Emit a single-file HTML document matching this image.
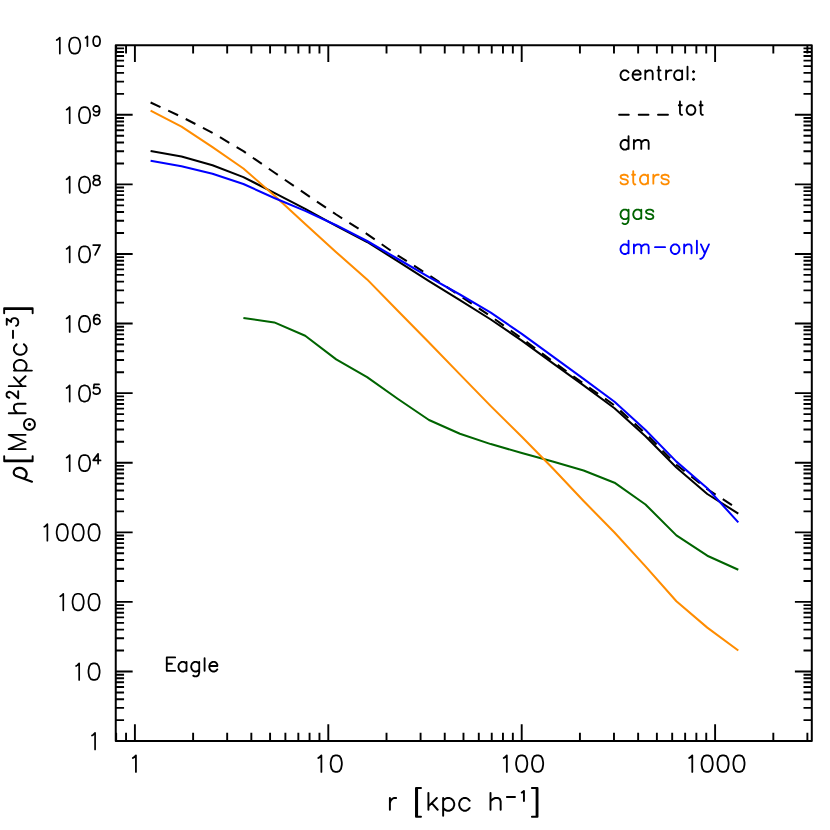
<!DOCTYPE html>
<html><head><meta charset="utf-8"><title>Eagle density profile</title>
<style>html,body{margin:0;padding:0;background:#fff;font-family:"Liberation Sans",sans-serif}svg{display:block}</style></head>
<body>
<svg width="830" height="830" viewBox="0 0 830 830">
<rect width="830" height="830" fill="#fff"/>
<g fill="none" stroke-linecap="round" stroke-linejoin="round">
<rect x="115.75" y="45.20" width="696.05" height="695.90" fill="none" stroke="#000" stroke-width="2.00"/>
<path d="M116.16 741.10 V732.80 M116.16 45.20 V53.50 M126.05 741.10 V732.80 M126.05 45.20 V53.50 M134.90 741.10 V724.20 M134.90 45.20 V62.10 M193.12 741.10 V732.80 M193.12 45.20 V53.50 M227.18 741.10 V732.80 M227.18 45.20 V53.50 M251.34 741.10 V732.80 M251.34 45.20 V53.50 M270.08 741.10 V732.80 M270.08 45.20 V53.50 M285.39 741.10 V732.80 M285.39 45.20 V53.50 M298.34 741.10 V732.80 M298.34 45.20 V53.50 M309.56 741.10 V732.80 M309.56 45.20 V53.50 M319.45 741.10 V732.80 M319.45 45.20 V53.50 M328.30 741.10 V724.20 M328.30 45.20 V62.10 M386.52 741.10 V732.80 M386.52 45.20 V53.50 M420.58 741.10 V732.80 M420.58 45.20 V53.50 M444.74 741.10 V732.80 M444.74 45.20 V53.50 M463.48 741.10 V732.80 M463.48 45.20 V53.50 M478.79 741.10 V732.80 M478.79 45.20 V53.50 M491.74 741.10 V732.80 M491.74 45.20 V53.50 M502.96 741.10 V732.80 M502.96 45.20 V53.50 M512.85 741.10 V732.80 M512.85 45.20 V53.50 M521.70 741.10 V724.20 M521.70 45.20 V62.10 M579.92 741.10 V732.80 M579.92 45.20 V53.50 M613.98 741.10 V732.80 M613.98 45.20 V53.50 M638.14 741.10 V732.80 M638.14 45.20 V53.50 M656.88 741.10 V732.80 M656.88 45.20 V53.50 M672.19 741.10 V732.80 M672.19 45.20 V53.50 M685.14 741.10 V732.80 M685.14 45.20 V53.50 M696.36 741.10 V732.80 M696.36 45.20 V53.50 M706.25 741.10 V732.80 M706.25 45.20 V53.50 M715.10 741.10 V724.20 M715.10 45.20 V62.10 M773.32 741.10 V732.80 M773.32 45.20 V53.50 M807.38 741.10 V732.80 M807.38 45.20 V53.50 M115.75 720.15 H124.05 M811.80 720.15 H803.50 M115.75 707.90 H124.05 M811.80 707.90 H803.50 M115.75 699.20 H124.05 M811.80 699.20 H803.50 M115.75 692.46 H124.05 M811.80 692.46 H803.50 M115.75 686.95 H124.05 M811.80 686.95 H803.50 M115.75 682.29 H124.05 M811.80 682.29 H803.50 M115.75 678.25 H124.05 M811.80 678.25 H803.50 M115.75 674.69 H124.05 M811.80 674.69 H803.50 M115.75 671.51 H132.65 M811.80 671.51 H794.90 M115.75 650.56 H124.05 M811.80 650.56 H803.50 M115.75 638.31 H124.05 M811.80 638.31 H803.50 M115.75 629.61 H124.05 M811.80 629.61 H803.50 M115.75 622.87 H124.05 M811.80 622.87 H803.50 M115.75 617.36 H124.05 M811.80 617.36 H803.50 M115.75 612.70 H124.05 M811.80 612.70 H803.50 M115.75 608.66 H124.05 M811.80 608.66 H803.50 M115.75 605.10 H124.05 M811.80 605.10 H803.50 M115.75 601.92 H132.65 M811.80 601.92 H794.90 M115.75 580.97 H124.05 M811.80 580.97 H803.50 M115.75 568.72 H124.05 M811.80 568.72 H803.50 M115.75 560.02 H124.05 M811.80 560.02 H803.50 M115.75 553.28 H124.05 M811.80 553.28 H803.50 M115.75 547.77 H124.05 M811.80 547.77 H803.50 M115.75 543.11 H124.05 M811.80 543.11 H803.50 M115.75 539.07 H124.05 M811.80 539.07 H803.50 M115.75 535.51 H124.05 M811.80 535.51 H803.50 M115.75 532.33 H132.65 M811.80 532.33 H794.90 M115.75 511.38 H124.05 M811.80 511.38 H803.50 M115.75 499.13 H124.05 M811.80 499.13 H803.50 M115.75 490.43 H124.05 M811.80 490.43 H803.50 M115.75 483.69 H124.05 M811.80 483.69 H803.50 M115.75 478.18 H124.05 M811.80 478.18 H803.50 M115.75 473.52 H124.05 M811.80 473.52 H803.50 M115.75 469.48 H124.05 M811.80 469.48 H803.50 M115.75 465.92 H124.05 M811.80 465.92 H803.50 M115.75 462.74 H132.65 M811.80 462.74 H794.90 M115.75 441.79 H124.05 M811.80 441.79 H803.50 M115.75 429.54 H124.05 M811.80 429.54 H803.50 M115.75 420.84 H124.05 M811.80 420.84 H803.50 M115.75 414.10 H124.05 M811.80 414.10 H803.50 M115.75 408.59 H124.05 M811.80 408.59 H803.50 M115.75 403.93 H124.05 M811.80 403.93 H803.50 M115.75 399.89 H124.05 M811.80 399.89 H803.50 M115.75 396.33 H124.05 M811.80 396.33 H803.50 M115.75 393.15 H132.65 M811.80 393.15 H794.90 M115.75 372.20 H124.05 M811.80 372.20 H803.50 M115.75 359.95 H124.05 M811.80 359.95 H803.50 M115.75 351.25 H124.05 M811.80 351.25 H803.50 M115.75 344.51 H124.05 M811.80 344.51 H803.50 M115.75 339.00 H124.05 M811.80 339.00 H803.50 M115.75 334.34 H124.05 M811.80 334.34 H803.50 M115.75 330.30 H124.05 M811.80 330.30 H803.50 M115.75 326.74 H124.05 M811.80 326.74 H803.50 M115.75 323.56 H132.65 M811.80 323.56 H794.90 M115.75 302.61 H124.05 M811.80 302.61 H803.50 M115.75 290.36 H124.05 M811.80 290.36 H803.50 M115.75 281.66 H124.05 M811.80 281.66 H803.50 M115.75 274.92 H124.05 M811.80 274.92 H803.50 M115.75 269.41 H124.05 M811.80 269.41 H803.50 M115.75 264.75 H124.05 M811.80 264.75 H803.50 M115.75 260.71 H124.05 M811.80 260.71 H803.50 M115.75 257.15 H124.05 M811.80 257.15 H803.50 M115.75 253.97 H132.65 M811.80 253.97 H794.90 M115.75 233.02 H124.05 M811.80 233.02 H803.50 M115.75 220.77 H124.05 M811.80 220.77 H803.50 M115.75 212.07 H124.05 M811.80 212.07 H803.50 M115.75 205.33 H124.05 M811.80 205.33 H803.50 M115.75 199.82 H124.05 M811.80 199.82 H803.50 M115.75 195.16 H124.05 M811.80 195.16 H803.50 M115.75 191.12 H124.05 M811.80 191.12 H803.50 M115.75 187.56 H124.05 M811.80 187.56 H803.50 M115.75 184.38 H132.65 M811.80 184.38 H794.90 M115.75 163.43 H124.05 M811.80 163.43 H803.50 M115.75 151.18 H124.05 M811.80 151.18 H803.50 M115.75 142.48 H124.05 M811.80 142.48 H803.50 M115.75 135.74 H124.05 M811.80 135.74 H803.50 M115.75 130.23 H124.05 M811.80 130.23 H803.50 M115.75 125.57 H124.05 M811.80 125.57 H803.50 M115.75 121.53 H124.05 M811.80 121.53 H803.50 M115.75 117.97 H124.05 M811.80 117.97 H803.50 M115.75 114.79 H132.65 M811.80 114.79 H794.90 M115.75 93.84 H124.05 M811.80 93.84 H803.50 M115.75 81.59 H124.05 M811.80 81.59 H803.50 M115.75 72.89 H124.05 M811.80 72.89 H803.50 M115.75 66.15 H124.05 M811.80 66.15 H803.50 M115.75 60.64 H124.05 M811.80 60.64 H803.50 M115.75 55.98 H124.05 M811.80 55.98 H803.50 M115.75 51.94 H124.05 M811.80 51.94 H803.50 M115.75 48.38 H124.05 M811.80 48.38 H803.50" stroke="#000" stroke-width="1.90" stroke-linecap="butt"/>
<polyline points="150.6,102.5 181.5,116.8 212.5,132.8 243.4,151.2 274.3,172.5 305.2,193.7 336.2,214.5 367.1,234.1 398.0,255.6 429.0,275.2 459.9,295.7 490.8,316.3 521.8,338.4 552.7,361.4 583.6,383.6 614.5,405.4 645.5,433.4 676.4,464.7 707.3,489.2 738.3,509.1" fill="none" stroke="#000" stroke-width="2.05" stroke-linejoin="round" stroke-linecap="butt" stroke-dasharray="10.9 8.5"/>
<polyline points="150.6,151.1 181.5,156.6 212.5,165.3 243.4,177.1 274.3,192.8 305.2,208.8 336.2,225.8 367.1,242.0 398.0,261.3 429.0,281.2 459.9,300.2 490.8,319.5 521.8,340.6 552.7,363.1 583.6,385.3 614.5,408.2 645.5,436.3 676.4,467.5 707.3,494.0 738.3,513.6" fill="none" stroke="#000" stroke-width="2.05" stroke-linejoin="round" stroke-linecap="butt"/>
<polyline points="243.4,318.0 274.3,322.4 305.2,335.7 336.2,359.4 367.1,377.1 398.0,399.0 429.0,420.0 459.9,433.7 490.8,444.1 521.8,453.0 552.7,461.4 583.6,470.5 614.5,482.7 645.5,504.5 676.4,535.4 707.3,555.7 738.3,569.8" fill="none" stroke="#006400" stroke-width="2.05" stroke-linejoin="round" stroke-linecap="butt"/>
<polyline points="150.6,110.6 181.5,126.6 212.5,147.1 243.4,168.5 274.3,195.5 305.2,224.1 336.2,252.2 367.1,279.4 398.0,311.0 429.0,342.5 459.9,374.4 490.8,406.1 521.8,436.8 552.7,468.2 583.6,501.0 614.5,532.5 645.5,566.4 676.4,601.2 707.3,627.6 738.3,650.5" fill="none" stroke="#ff8c00" stroke-width="2.05" stroke-linejoin="round" stroke-linecap="butt"/>
<polyline points="150.6,160.8 181.5,166.2 212.5,173.8 243.4,184.0 274.3,198.0 305.2,210.9 336.2,225.2 367.1,241.0 398.0,259.0 429.0,277.2 459.9,294.5 490.8,312.7 521.8,333.9 552.7,356.4 583.6,378.9 614.5,401.8 645.5,430.0 676.4,461.6 707.3,488.2 738.3,522.4" fill="none" stroke="#0000ff" stroke-width="2.05" stroke-linejoin="round" stroke-linecap="butt"/>
<path d="M95.08 749.50 L95.08 732.91 L93.10 734.96 L91.98 735.60" stroke="#000" stroke-width="1.70"/>
<path d="M79.18 679.91 L79.18 663.32 L77.20 665.37 L76.08 666.01 M93.25 679.91 L94.84 679.91 L97.23 679.12 L98.82 676.75 L99.62 672.80 L99.62 670.43 L98.82 666.48 L97.23 664.11 L94.84 663.32 L93.25 663.32 L90.87 664.11 L89.28 666.48 L88.48 670.43 L88.48 672.80 L89.28 676.75 L90.87 679.12 L93.25 679.91" stroke="#000" stroke-width="1.70"/>
<path d="M63.28 610.32 L63.28 593.73 L61.30 595.78 L60.18 596.42 M77.35 610.32 L78.94 610.32 L81.33 609.53 L82.92 607.16 L83.72 603.21 L83.72 600.84 L82.92 596.89 L81.33 594.52 L78.94 593.73 L77.35 593.73 L74.97 594.52 L73.38 596.89 L72.58 600.84 L72.58 603.21 L73.38 607.16 L74.97 609.53 L77.35 610.32 M93.25 610.32 L94.84 610.32 L97.23 609.53 L98.82 607.16 L99.61 603.21 L99.61 600.84 L98.82 596.89 L97.23 594.52 L94.84 593.73 L93.25 593.73 L90.87 594.52 L89.28 596.89 L88.48 600.84 L88.48 603.21 L89.28 607.16 L90.87 609.53 L93.25 610.32" stroke="#000" stroke-width="1.70"/>
<path d="M47.38 540.73 L47.38 524.14 L45.40 526.19 L44.28 526.83 M61.45 540.73 L63.05 540.73 L65.43 539.94 L67.02 537.57 L67.81 533.62 L67.81 531.25 L67.02 527.30 L65.43 524.93 L63.05 524.14 L61.45 524.14 L59.07 524.93 L57.48 527.30 L56.69 531.25 L56.69 533.62 L57.48 537.57 L59.07 539.94 L61.45 540.73 M77.35 540.73 L78.94 540.73 L81.33 539.94 L82.92 537.57 L83.72 533.62 L83.72 531.25 L82.92 527.30 L81.33 524.93 L78.94 524.14 L77.35 524.14 L74.97 524.93 L73.38 527.30 L72.59 531.25 L72.59 533.62 L73.38 537.57 L74.97 539.94 L77.35 540.73 M93.25 540.73 L94.84 540.73 L97.23 539.94 L98.82 537.57 L99.62 533.62 L99.62 531.25 L98.82 527.30 L97.23 524.93 L94.84 524.14 L93.25 524.14 L90.87 524.93 L89.28 527.30 L88.48 531.25 L88.48 533.62 L89.28 537.57 L90.87 539.94 L93.25 540.73" stroke="#000" stroke-width="1.70"/>
<path d="M69.68 471.14 L69.68 455.05 L67.69 457.04 L66.57 457.65 M83.75 471.14 L85.34 471.14 L87.72 470.37 L89.31 468.07 L90.11 464.24 L90.11 461.94 L89.31 458.11 L87.72 455.81 L85.34 455.05 L83.75 455.05 L81.36 455.81 L79.77 458.11 L78.98 461.94 L78.98 464.24 L79.77 468.07 L81.36 470.37 L83.75 471.14 M98.10 463.64 L98.10 453.87 L93.17 460.38 L100.56 460.38" stroke="#000" stroke-width="1.70"/>
<path d="M69.68 401.55 L69.68 385.46 L67.69 387.45 L66.57 388.06 M83.75 401.55 L85.34 401.55 L87.72 400.78 L89.31 398.48 L90.11 394.65 L90.11 392.35 L89.31 388.52 L87.72 386.22 L85.34 385.46 L83.75 385.46 L81.36 386.22 L79.77 388.52 L78.98 392.35 L78.98 394.65 L79.77 398.48 L81.36 400.78 L83.75 401.55 M93.17 392.19 L93.66 393.12 L94.16 393.58 L95.64 394.05 L97.11 394.05 L98.59 393.58 L99.58 392.65 L100.07 391.26 L100.07 390.33 L99.58 388.93 L98.59 388.00 L97.11 387.54 L95.64 387.54 L94.16 388.00 L93.66 388.47 L94.16 384.28 L99.09 384.28" stroke="#000" stroke-width="1.70"/>
<path d="M69.68 331.96 L69.68 315.87 L67.69 317.86 L66.57 318.47 M83.75 331.96 L85.34 331.96 L87.72 331.19 L89.31 328.89 L90.11 325.06 L90.11 322.76 L89.31 318.93 L87.72 316.63 L85.34 315.87 L83.75 315.87 L81.36 316.63 L79.77 318.93 L78.98 322.76 L78.98 325.06 L79.77 328.89 L81.36 331.19 L83.75 331.96 M99.58 316.08 L99.09 315.15 L97.61 314.69 L96.62 314.69 L95.14 315.15 L94.16 316.55 L93.66 318.88 L93.66 321.20 L94.16 323.06 L95.14 323.99 L96.62 324.46 L97.11 324.46 L98.59 323.99 L99.58 323.06 L100.07 321.67 L100.07 321.20 L99.58 319.81 L98.59 318.88 L97.11 318.41 L96.62 318.41 L95.14 318.88 L94.16 319.81 L93.66 321.20" stroke="#000" stroke-width="1.70"/>
<path d="M69.68 262.37 L69.68 246.28 L67.69 248.27 L66.57 248.88 M83.75 262.37 L85.34 262.37 L87.72 261.60 L89.31 259.30 L90.11 255.47 L90.11 253.17 L89.31 249.34 L87.72 247.04 L85.34 246.28 L83.75 246.28 L81.36 247.04 L79.77 249.34 L78.98 253.17 L78.98 255.47 L79.77 259.30 L81.36 261.60 L83.75 262.37 M95.14 254.87 L100.07 245.10 L93.17 245.10" stroke="#000" stroke-width="1.70"/>
<path d="M69.68 192.78 L69.68 176.69 L67.69 178.68 L66.57 179.29 M83.75 192.78 L85.34 192.78 L87.72 192.01 L89.31 189.71 L90.11 185.88 L90.11 183.58 L89.31 179.75 L87.72 177.45 L85.34 176.69 L83.75 176.69 L81.36 177.45 L79.77 179.75 L78.98 183.58 L78.98 185.88 L79.77 189.71 L81.36 192.01 L83.75 192.78 M95.64 185.28 L97.61 185.28 L99.09 184.81 L99.58 184.35 L100.07 183.42 L100.07 182.02 L99.58 181.09 L98.59 180.16 L97.11 179.70 L95.14 179.23 L94.16 178.77 L93.66 177.84 L93.66 176.90 L94.16 175.97 L95.64 175.51 L97.61 175.51 L99.09 175.97 L99.58 176.90 L99.58 177.84 L99.09 178.77 L98.10 179.23 L96.13 179.70 L94.65 180.16 L93.66 181.09 L93.17 182.02 L93.17 183.42 L93.66 184.35 L94.16 184.81 L95.64 185.28" stroke="#000" stroke-width="1.70"/>
<path d="M69.68 123.19 L69.68 107.10 L67.69 109.09 L66.57 109.70 M83.75 123.19 L85.34 123.19 L87.72 122.42 L89.31 120.12 L90.11 116.29 L90.11 113.99 L89.31 110.16 L87.72 107.86 L85.34 107.10 L83.75 107.10 L81.36 107.86 L79.77 110.16 L78.98 113.99 L78.98 116.29 L79.77 120.12 L81.36 122.42 L83.75 123.19 M93.66 114.29 L94.16 115.22 L95.64 115.69 L96.62 115.69 L98.10 115.22 L99.09 113.83 L99.58 111.50 L99.58 109.18 L99.09 110.57 L98.10 111.50 L96.62 111.97 L96.13 111.97 L94.65 111.50 L93.66 110.57 L93.17 109.18 L93.17 108.71 L93.66 107.31 L94.65 106.38 L96.13 105.92 L96.62 105.92 L98.10 106.38 L99.09 107.31 L99.58 109.18" stroke="#000" stroke-width="1.70"/>
<path d="M59.82 53.60 L59.82 37.51 L57.83 39.50 L56.72 40.11 M73.89 53.60 L75.48 53.60 L77.86 52.83 L79.45 50.53 L80.25 46.70 L80.25 44.40 L79.45 40.57 L77.86 38.27 L75.48 37.51 L73.89 37.51 L71.50 38.27 L69.91 40.57 L69.12 44.40 L69.12 46.70 L69.91 50.53 L71.50 52.83 L73.89 53.60 M87.40 46.10 L87.40 36.33 L86.17 37.54 L85.48 37.91 M96.13 46.10 L97.11 46.10 L98.59 45.63 L99.58 44.24 L100.07 41.91 L100.07 40.52 L99.58 38.19 L98.59 36.79 L97.11 36.33 L96.13 36.33 L94.65 36.79 L93.66 38.19 L93.17 40.52 L93.17 41.91 L93.66 44.24 L94.65 45.63 L96.13 46.10" stroke="#000" stroke-width="1.70"/>
<path d="M135.93 771.90 L135.93 755.31 L133.95 757.36 L132.83 758.00" stroke="#000" stroke-width="1.80"/>
<path d="M321.38 771.90 L321.38 755.31 L319.40 757.36 L318.28 758.00 M335.46 771.90 L337.05 771.90 L339.43 771.11 L341.02 768.74 L341.82 764.79 L341.82 762.42 L341.02 758.47 L339.43 756.10 L337.05 755.31 L335.46 755.31 L333.07 756.10 L331.48 758.47 L330.69 762.42 L330.69 764.79 L331.48 768.74 L333.07 771.11 L335.46 771.90" stroke="#000" stroke-width="1.80"/>
<path d="M506.83 771.90 L506.83 755.31 L504.85 757.36 L503.73 758.00 M520.90 771.90 L522.50 771.90 L524.88 771.11 L526.47 768.74 L527.26 764.79 L527.26 762.42 L526.47 758.47 L524.88 756.10 L522.50 755.31 L520.90 755.31 L518.52 756.10 L516.93 758.47 L516.13 762.42 L516.13 764.79 L516.93 768.74 L518.52 771.11 L520.90 771.90 M536.81 771.90 L538.39 771.90 L540.78 771.11 L542.37 768.74 L543.16 764.79 L543.16 762.42 L542.37 758.47 L540.78 756.10 L538.39 755.31 L536.81 755.31 L534.42 756.10 L532.83 758.47 L532.04 762.42 L532.04 764.79 L532.83 768.74 L534.42 771.11 L536.81 771.90" stroke="#000" stroke-width="1.80"/>
<path d="M692.28 771.90 L692.28 755.31 L690.30 757.36 L689.18 758.00 M706.36 771.90 L707.95 771.90 L710.33 771.11 L711.92 768.74 L712.72 764.79 L712.72 762.42 L711.92 758.47 L710.33 756.10 L707.95 755.31 L706.36 755.31 L703.97 756.10 L702.38 758.47 L701.59 762.42 L701.59 764.79 L702.38 768.74 L703.97 771.11 L706.36 771.90 M722.26 771.90 L723.85 771.90 L726.23 771.11 L727.82 768.74 L728.62 764.79 L728.62 762.42 L727.82 758.47 L726.23 756.10 L723.85 755.31 L722.26 755.31 L719.87 756.10 L718.28 758.47 L717.49 762.42 L717.49 764.79 L718.28 768.74 L719.87 771.11 L722.26 771.90 M738.16 771.90 L739.75 771.90 L742.13 771.11 L743.72 768.74 L744.52 764.79 L744.52 762.42 L743.72 758.47 L742.13 756.10 L739.75 755.31 L738.16 755.31 L735.77 756.10 L734.18 758.47 L733.39 762.42 L733.39 764.79 L734.18 768.74 L735.77 771.11 L738.16 771.90" stroke="#000" stroke-width="1.80"/>
<path d="M389.90 809.75 L389.90 798.00 M389.90 803.04 L390.68 800.52 L392.24 798.84 L393.80 798.00 L396.14 798.00 M428.42 809.75 L428.42 792.85 M431.78 803.04 L437.66 809.75 M428.42 806.39 L436.82 798.00 M443.14 815.85 L443.14 798.00 M443.14 807.94 L444.99 809.75 L446.84 810.65 L449.62 810.65 L451.46 809.75 L453.31 807.94 L454.24 805.23 L454.24 803.42 L453.31 800.71 L451.46 798.91 L449.62 798.00 L446.84 798.00 L444.99 798.91 L443.14 800.71 M469.64 807.94 L467.90 809.75 L466.16 810.65 L463.55 810.65 L461.81 809.75 L460.07 807.94 L459.20 805.23 L459.20 803.42 L460.07 800.71 L461.81 798.91 L463.55 798.00 L466.16 798.00 L467.90 798.91 L469.64 800.71 M490.50 809.75 L490.50 792.85 M500.65 809.75 L500.65 801.36 L499.73 798.84 L497.88 798.00 L495.12 798.00 L493.27 798.84 L490.50 801.36 M506.90 796.90 L515.00 796.90 M523.94 801.10 L523.94 790.89 L522.57 792.16 L521.80 792.55" stroke="#000" stroke-width="1.95"/>
<path d="M421.00 788.00 H416.00 V816.80 H421.00 M417.10 788.00 V816.80 M531.90 788.00 H537.50 V816.75 H531.90 M536.60 788.00 V816.75" stroke="#000" stroke-width="1.95"/>
<path d="M628.55 77.94 L627.21 79.31 L625.87 80.00 L623.86 80.00 L622.52 79.31 L621.18 77.94 L620.51 75.89 L620.51 74.52 L621.18 72.46 L622.52 71.09 L623.86 70.41 L625.87 70.41 L627.21 71.09 L628.55 72.46 M640.61 77.94 L639.27 79.31 L637.93 80.00 L635.92 80.00 L634.58 79.31 L633.24 77.94 L632.57 75.89 L632.57 74.52 L640.61 74.52 L640.61 73.14 L639.94 71.78 L639.27 71.09 L637.93 70.41 L635.92 70.41 L634.58 71.09 L633.24 72.46 L632.57 74.52 M645.30 79.30 L645.30 70.41 M652.67 79.30 L652.67 72.95 L652.00 71.04 L650.66 70.41 L648.65 70.41 L647.31 71.04 L645.30 72.95 M660.84 80.02 L660.17 80.09 L659.37 79.53 L658.83 78.53 L658.70 76.75 L658.70 66.70 M657.56 70.41 L660.51 70.41 M666.07 79.30 L666.07 70.41 M666.07 74.22 L666.74 72.31 L668.08 71.04 L669.42 70.41 L671.43 70.41 M682.15 79.30 L682.15 70.41 M682.15 77.94 L680.81 79.31 L679.47 80.00 L677.46 80.00 L676.12 79.31 L674.78 77.94 L674.11 75.89 L674.11 74.52 L674.78 72.46 L676.12 71.09 L677.46 70.41 L679.47 70.41 L680.81 71.09 L682.15 72.46 M687.51 79.30 L687.51 66.70 M692.87 79.31 L693.54 79.95 L694.21 79.31 L693.54 78.68 L692.87 79.31 M692.87 71.69 L693.54 72.33 L694.21 71.69 L693.54 71.06 L692.87 71.69" stroke="#000" stroke-width="1.85"/>
<path d="M619.1 114.7H628.8 M638.7 114.7H648.5 M658 114.7H668" stroke="#000" stroke-width="1.85"/>
<path d="M682.09 114.81 L681.42 114.89 L680.62 114.33 L680.08 113.33 L679.95 111.55 L679.95 101.49 M678.81 105.20 L681.76 105.20 M690.00 114.79 L692.01 114.79 L693.35 114.10 L694.69 112.73 L695.36 110.68 L695.36 109.31 L694.69 107.25 L693.35 105.88 L692.01 105.20 L690.00 105.20 L688.66 105.88 L687.32 107.25 L686.65 109.31 L686.65 110.68 L687.32 112.73 L688.66 114.10 L690.00 114.79 M702.86 114.81 L702.19 114.89 L701.39 114.33 L700.85 113.33 L700.72 111.55 L700.72 101.49 M699.58 105.20 L702.53 105.20" stroke="#000" stroke-width="1.85"/>
<path d="M628.55 148.89 L628.55 136.29 M628.55 147.53 L627.21 148.90 L625.87 149.59 L623.86 149.59 L622.52 148.90 L621.18 147.53 L620.51 145.48 L620.51 144.11 L621.18 142.05 L622.52 140.68 L623.86 140.00 L625.87 140.00 L627.21 140.68 L628.55 142.05 M633.91 148.89 L633.91 140.00 M641.28 148.89 L641.28 142.54 L643.29 140.63 L644.63 140.00 L646.64 140.00 L647.98 140.63 L648.65 142.54 L648.65 148.89 M633.91 142.54 L635.92 140.63 L637.26 140.00 L639.27 140.00 L640.61 140.63 L641.28 142.54" stroke="#000" stroke-width="1.85"/>
<path d="M620.51 182.33 L621.18 183.69 L623.19 184.38 L625.20 184.38 L627.21 183.69 L627.88 182.33 L627.88 181.64 L627.21 180.27 L625.87 179.59 L622.52 178.90 L621.18 178.22 L620.51 176.84 L621.18 175.47 L623.19 174.79 L625.20 174.79 L627.21 175.47 L627.88 176.84 M635.38 184.40 L634.71 184.48 L633.91 183.92 L633.37 182.92 L633.24 181.14 L633.24 171.08 M632.10 174.79 L635.05 174.79 M647.98 183.68 L647.98 174.79 M647.98 182.33 L646.64 183.69 L645.30 184.38 L643.29 184.38 L641.95 183.69 L640.61 182.33 L639.94 180.27 L639.94 178.90 L640.61 176.84 L641.95 175.47 L643.29 174.79 L645.30 174.79 L646.64 175.47 L647.98 176.84 M653.34 183.68 L653.34 174.79 M653.34 178.60 L654.01 176.69 L655.35 175.43 L656.69 174.79 L658.70 174.79 M661.38 182.33 L662.05 183.69 L664.06 184.38 L666.07 184.38 L668.08 183.69 L668.75 182.33 L668.75 181.64 L668.08 180.27 L666.74 179.59 L663.39 178.90 L662.05 178.22 L661.38 176.84 L662.05 175.47 L664.06 174.79 L666.07 174.79 L668.08 175.47 L668.75 176.84" stroke="#ff8c00" stroke-width="1.85"/>
<path d="M622.52 223.27 L623.86 224.07 L625.87 224.07 L627.21 223.27 L627.88 222.47 L628.55 220.07 L628.55 209.58 M628.55 217.12 L627.21 218.49 L625.87 219.17 L623.86 219.17 L622.52 218.49 L621.18 217.12 L620.51 215.06 L620.51 213.69 L621.18 211.64 L622.52 210.27 L623.86 209.58 L625.87 209.58 L627.21 210.27 L628.55 211.64 M641.28 218.47 L641.28 209.58 M641.28 217.12 L639.94 218.49 L638.60 219.17 L636.59 219.17 L635.25 218.49 L633.91 217.12 L633.24 215.06 L633.24 213.69 L633.91 211.64 L635.25 210.27 L636.59 209.58 L638.60 209.58 L639.94 210.27 L641.28 211.64 M645.97 217.12 L646.64 218.49 L648.65 219.17 L650.66 219.17 L652.67 218.49 L653.34 217.12 L653.34 216.43 L652.67 215.06 L651.33 214.38 L647.98 213.69 L646.64 213.01 L645.97 211.64 L646.64 210.27 L648.65 209.58 L650.66 209.58 L652.67 210.27 L653.34 211.64" stroke="#006400" stroke-width="1.85"/>
<path d="M628.55 253.27 L628.55 240.67 M628.55 251.92 L627.21 253.29 L625.87 253.97 L623.86 253.97 L622.52 253.29 L621.18 251.92 L620.51 249.86 L620.51 248.49 L621.18 246.44 L622.52 245.07 L623.86 244.38 L625.87 244.38 L627.21 245.07 L628.55 246.44 M633.91 253.27 L633.91 244.38 M641.28 253.27 L641.28 246.92 L643.29 245.02 L644.63 244.38 L646.64 244.38 L647.98 245.02 L648.65 246.92 L648.65 253.27 M633.91 246.92 L635.92 245.02 L637.26 244.38 L639.27 244.38 L640.61 245.02 L641.28 246.92 M655.01 247.15 L665.07 247.15 M674.11 253.97 L676.12 253.97 L677.46 253.29 L678.80 251.92 L679.47 249.86 L679.47 248.49 L678.80 246.44 L677.46 245.07 L676.12 244.38 L674.11 244.38 L672.77 245.07 L671.43 246.44 L670.76 248.49 L670.76 249.86 L671.43 251.92 L672.77 253.29 L674.11 253.97 M684.16 253.27 L684.16 244.38 M691.53 253.27 L691.53 246.92 L690.86 245.02 L689.52 244.38 L687.51 244.38 L686.17 245.02 L684.16 246.92 M696.89 253.27 L696.89 240.67 M700.24 258.87 L700.91 258.87 L702.25 258.07 L703.59 256.47 L704.93 253.27 L700.91 244.38 M708.95 244.38 L704.93 253.27" stroke="#0000ff" stroke-width="1.85"/>
<path d="M175.16 670.81 L166.78 670.81 L166.78 657.41 L175.16 657.41 M166.78 663.79 L171.94 663.79 M186.50 670.81 L186.50 661.92 M186.50 669.45 L185.16 670.82 L183.82 671.51 L181.81 671.51 L180.47 670.82 L179.13 669.45 L178.46 667.40 L178.46 666.03 L179.13 663.97 L180.47 662.60 L181.81 661.92 L183.82 661.92 L185.16 662.60 L186.50 663.97 M193.20 675.61 L194.54 676.41 L196.55 676.41 L197.89 675.61 L198.56 674.81 L199.23 672.41 L199.23 661.92 M199.23 669.45 L197.89 670.82 L196.55 671.51 L194.54 671.51 L193.20 670.82 L191.86 669.45 L191.19 667.40 L191.19 666.03 L191.86 663.97 L193.20 662.60 L194.54 661.92 L196.55 661.92 L197.89 662.60 L199.23 663.97 M204.59 670.81 L204.59 658.21 M217.32 669.45 L215.98 670.82 L214.64 671.51 L212.63 671.51 L211.29 670.82 L209.95 669.45 L209.28 667.40 L209.28 666.03 L217.32 666.03 L217.32 664.66 L216.66 663.29 L215.98 662.60 L214.64 661.92 L212.63 661.92 L211.29 662.60 L209.95 663.97 L209.28 666.03" stroke="#000" stroke-width="1.85"/>
<path d="M25.60 449.15 L8.70 449.15 L25.60 442.00 L8.70 434.85 L25.60 434.85 M25.60 413.22 L8.75 413.22 M25.60 403.80 L17.28 403.80 L14.78 404.66 L13.95 406.37 L13.95 408.94 L14.78 410.65 L17.28 413.22 M18.20 391.30 L18.20 398.20 L12.68 393.27 L11.02 392.28 L9.92 391.79 L8.82 391.79 L7.71 392.28 L7.16 392.78 L6.61 393.76 L6.61 395.74 L7.16 396.72 L7.71 397.21 L8.82 397.71 L9.37 397.71 M25.60 386.15 L8.75 386.15 M18.94 382.55 L25.60 376.25 M22.27 386.15 L13.95 377.15 M31.90 370.60 L13.95 370.60 M23.85 370.60 L25.65 368.82 L26.55 367.05 L26.55 364.39 L25.65 362.61 L23.85 360.84 L21.15 359.95 L19.35 359.95 L16.65 360.84 L14.85 362.61 L13.95 364.39 L13.95 367.05 L14.85 368.82 L16.65 370.60 M23.85 344.20 L25.65 345.96 L26.55 347.72 L26.55 350.36 L25.65 352.11 L23.85 353.87 L21.15 354.75 L19.35 354.75 L16.65 353.87 L14.85 352.11 L13.95 350.36 L13.95 347.72 L14.85 345.96 L16.65 344.20 M13.00 338.10 L13.00 330.60 M16.06 325.80 L17.15 325.25 L17.70 324.71 L18.25 323.07 L18.25 321.43 L17.70 319.79 L16.61 318.70 L14.96 318.16 L13.87 318.16 L12.22 318.70 L11.67 319.25 L11.13 320.34 L11.13 321.98 L6.74 318.70 L6.74 324.71" stroke="#000" stroke-width="1.90"/>
<path d="M4.20 456.10 L4.20 461.30 L32.65 461.30 L32.65 456.10 M4.20 460.50 L32.65 460.50 M4.15 313.20 L4.15 308.15 L32.65 308.15 L32.65 313.20 M4.15 309.05 L32.65 309.05" stroke="#000" stroke-width="1.90"/>
<path d="M32.0 481.75 L15.6 475.7 C13.2 474.6 13.2 471.2 15 469.5 C17 467.5 21 467.3 23.5 469 C26 470.7 27.2 473.5 26.3 475.8 C25.6 477.6 24 478.7 22.6 478.3" stroke="#000" stroke-width="2.15"/>
<circle cx="29.45" cy="424.4" r="5.5" fill="none" stroke="#000" stroke-width="1.9"/><circle cx="29.45" cy="424.4" r="1.6" fill="#000" stroke="none"/>
</g>
</svg>
</body></html>
